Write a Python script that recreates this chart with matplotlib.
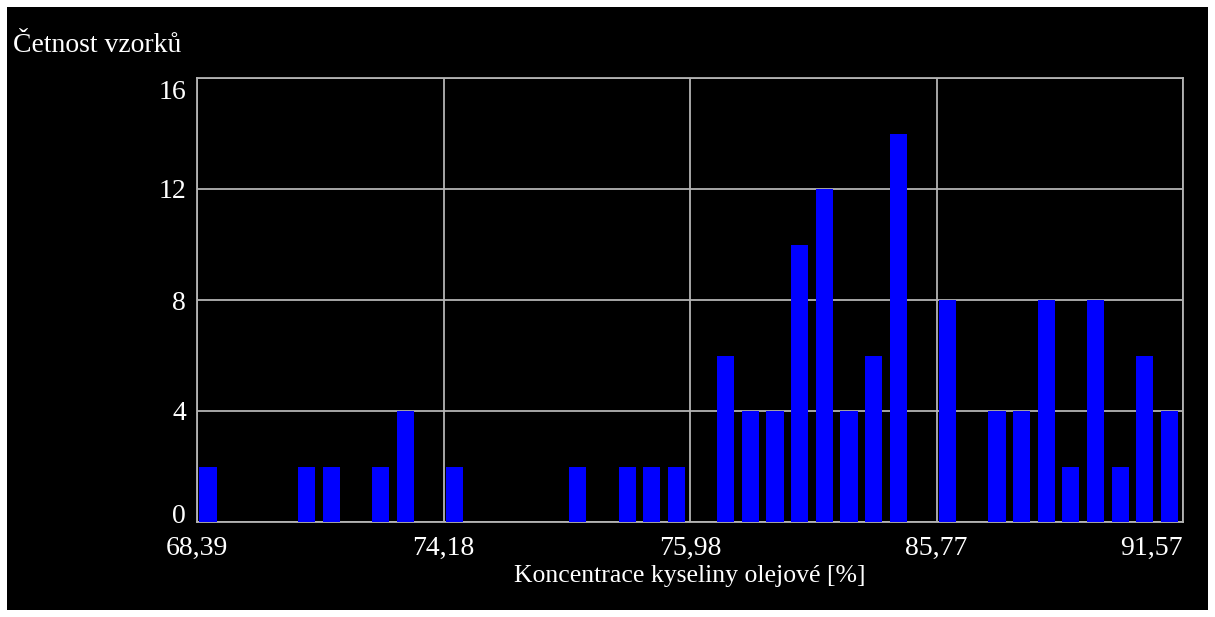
import matplotlib.pyplot as plt
import matplotlib.transforms as mtransforms
from matplotlib.patches import Rectangle

# histogram bins (40 bins), counts
bins = list(range(40))
counts = [2, 0, 0, 0, 2, 2, 0, 2, 4, 0,
          2, 0, 0, 0, 0, 2, 0, 2, 2, 2,
          0, 6, 4, 4, 10, 12, 4, 6, 14, 0,
          8, 0, 4, 4, 8, 2, 8, 2, 6, 4]
tick_pos = [0, 10, 20, 30, 40]
tick_labels = ["68,39", "74,18", "75,98", "85,77", "91,57"]
y_ticks = [0, 4, 8, 12, 16]

plt.rcParams['font.family'] = ['Liberation Serif', 'DejaVu Serif']

fig = plt.figure(figsize=(12.15, 6.17), dpi=100, facecolor='white')
# black panel inside white border
fig.patches.append(Rectangle((7 / 1215, 7 / 617), 1201 / 1215, 603 / 617,
                             transform=fig.transFigure, facecolor='black',
                             edgecolor='none', zorder=-10))

ax = fig.add_axes([197 / 1215, (617 - 522) / 617, 986 / 1215, 444 / 617])
ax.set_facecolor('black')
grid_c = '#b4b4b4'

ax.bar([b + 0.45 for b in bins], counts, width=0.7, color='#0000ff', zorder=3)

ax.set_xlim(0, 40)
ax.set_ylim(0, 16)
ax.set_xticks(tick_pos)
ax.set_xticklabels(tick_labels)
ax.set_yticks(y_ticks)
ax.tick_params(colors='white', labelsize=20, length=0, pad=8)
ax.tick_params(axis='x', pad=10)
ax.get_xticklabels()[-1].set_horizontalalignment('right')
ax.get_xticklabels()[-1].set_x(40.25)

# keep end labels of the y axis inside the plot height, like the original
ylabs = ax.get_yticklabels()
ylabs[0].set_transform(ylabs[0].get_transform() +
                       mtransforms.ScaledTranslation(0, 6 / 72, fig.dpi_scale_trans))
ylabs[-1].set_transform(ylabs[-1].get_transform() +
                        mtransforms.ScaledTranslation(0, -8 / 72, fig.dpi_scale_trans))

ax.grid(True, color=grid_c, linewidth=1.3, zorder=1)
for s in ax.spines.values():
    s.set_color(grid_c)
    s.set_linewidth(1.3)

ax.set_xlabel('Koncentrace kyseliny olejové [%]', color='white', fontsize=18.5, labelpad=3)
fig.text(13 / 1215, 1 - 45 / 617, 'Četnost vzorků', color='white', fontsize=20,
         ha='left', va='center')

plt.savefig('out.png', dpi=100, facecolor='white')
